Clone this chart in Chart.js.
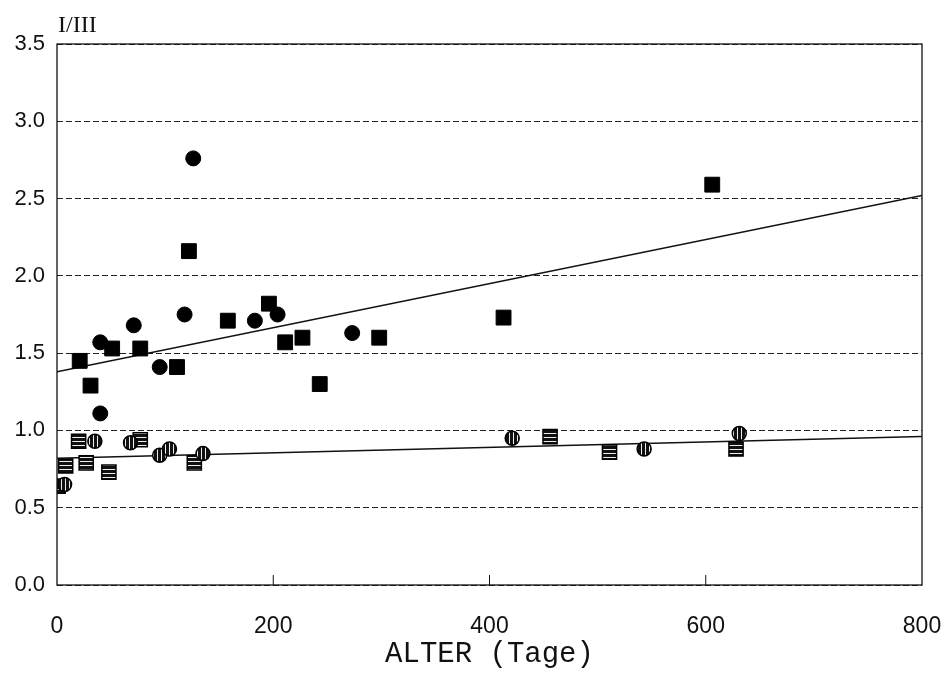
<!DOCTYPE html>
<html>
<head>
<meta charset="utf-8">
<script src="https://cdn.jsdelivr.net/npm/chart.js@4.4.1/dist/chart.umd.min.js"></script>
<style>
  body { margin: 0; background: #fff; }
</style>
</head>
<body>
<canvas id="ratioChart" width="949" height="675"></canvas>
<script>
// values (age in days, ratio I/III)
const fullCircleAge   = [126, 40, 71, 118, 183, 204, 273, 95, 40];
const fullCircleRatio = [2.76, 1.57, 1.68, 1.75, 1.71, 1.75, 1.63, 1.41, 1.11];

const fullSquareAge   = [122, 606, 21, 31, 51, 77, 111, 158, 196, 211, 227, 243, 298, 413];
const fullSquareRatio = [2.16, 2.59, 1.45, 1.29, 1.53, 1.53, 1.41, 1.71, 1.82, 1.57, 1.60, 1.30, 1.60, 1.73];

const hatchCircleAge   = [7, 35, 68, 95, 104, 135, 421, 543, 631];
const hatchCircleRatio = [0.65, 0.93, 0.92, 0.84, 0.88, 0.85, 0.95, 0.88, 0.98];

const hatchSquareAge   = [1, 8, 20, 27, 48, 77, 127, 456, 511, 628];
const hatchSquareRatio = [0.64, 0.77, 0.93, 0.79, 0.73, 0.94, 0.79, 0.96, 0.86, 0.88];

// regression lines (end points)
const lineAge      = [0, 800];
const upperLine    = [1.38, 2.52];
const lowerLine    = [0.82, 0.96];

const xTicks = [0, 200, 400, 600, 800];
const yTicks = [0, 0.5, 1.0, 1.5, 2.0, 2.5, 3.0, 3.5];

function toPoints(xs, ys) {
  return xs.map((x, i) => ({ x: x, y: ys[i] }));
}

// hatched fill for the open symbols
function makeHatch(vertical) {
  const c = document.createElement("canvas");
  c.width = 4;
  c.height = 4;
  const g = c.getContext("2d");
  g.fillStyle = "#111";
  g.fillRect(0, 0, 4, 4);
  g.fillStyle = "#eee";
  if (vertical) g.fillRect(1, 0, 1, 4);
  else g.fillRect(0, 1, 4, 1);
  return g.createPattern(c, "repeat");
}

// frame, inner tick marks and the y-axis caption
const framePlugin = {
  id: "frame",
  afterDraw(chart) {
    const { ctx, chartArea: a, scales } = chart;
    ctx.save();
    ctx.strokeStyle = "#111";
    ctx.lineWidth = 1.3;
    ctx.strokeRect(a.left, a.top, a.right - a.left, a.bottom - a.top);
    ctx.lineWidth = 1;
    [200, 400, 600].forEach(v => {
      const px = scales.x.getPixelForValue(v);
      ctx.beginPath();
      ctx.moveTo(px, a.bottom);
      ctx.lineTo(px, a.bottom - 10);
      ctx.stroke();
    });
    ctx.fillStyle = "#111";
    ctx.font = "24px 'Liberation Serif'";
    ctx.textAlign = "left";
    ctx.textBaseline = "alphabetic";
    ctx.fillText("I/III", a.left + 1, a.top - 12);
    ctx.restore();
  }
};

const ctx = document.getElementById("ratioChart").getContext("2d");

new Chart(ctx, {
  type: "scatter",
  data: {
    datasets: [
      {
        label: "full circles",
        data: toPoints(fullCircleAge, fullCircleRatio),
        pointStyle: "circle",
        pointRadius: 7.5,
        backgroundColor: "#000",
        borderColor: "#000",
        borderWidth: 1
      },
      {
        label: "full squares",
        data: toPoints(fullSquareAge, fullSquareRatio),
        pointStyle: "rect",
        pointRadius: 10.5,
        backgroundColor: "#000",
        borderColor: "#000",
        borderWidth: 1
      },
      {
        label: "hatched circles",
        data: toPoints(hatchCircleAge, hatchCircleRatio),
        pointStyle: "circle",
        pointRadius: 7,
        backgroundColor: makeHatch(true),
        borderColor: "#000",
        borderWidth: 1.5
      },
      {
        label: "hatched squares",
        data: toPoints(hatchSquareAge, hatchSquareRatio),
        pointStyle: "rect",
        pointRadius: 10,
        backgroundColor: makeHatch(false),
        borderColor: "#000",
        borderWidth: 1.5
      },
      {
        type: "line",
        label: "upper fit",
        data: toPoints(lineAge, upperLine),
        borderColor: "#111",
        borderWidth: 1.5,
        pointRadius: 0,
        fill: false
      },
      {
        type: "line",
        label: "lower fit",
        data: toPoints(lineAge, lowerLine),
        borderColor: "#111",
        borderWidth: 1.5,
        pointRadius: 0,
        fill: false
      }
    ]
  },
  options: {
    responsive: false,
    animation: false,
    layout: { padding: { left: 0, right: 27, top: 44, bottom: 0 } },
    plugins: {
      legend: { display: false },
      tooltip: { enabled: false }
    },
    scales: {
      x: {
        type: "linear",
        min: 0,
        max: 800,
        afterBuildTicks: scale => { scale.ticks = xTicks.map(v => ({ value: v })); },
        afterFit: scale => {
          scale.height = 90;
          scale.paddingLeft = 0;
          scale.paddingRight = 0;
        },
        grid: { display: false, drawTicks: false },
        border: { display: false },
        ticks: {
          padding: 28,
          color: "#111",
          font: { family: "'Liberation Sans'", size: 23 },
          maxRotation: 0
        },
        title: {
          display: true,
          text: "ALTER (Tage)",
          color: "#111",
          font: { family: "'Liberation Mono'", size: 29 },
          padding: { top: 0, bottom: 3 }
        }
      },
      y: {
        type: "linear",
        min: 0,
        max: 3.5,
        afterBuildTicks: scale => { scale.ticks = yTicks.map(v => ({ value: v })); },
        afterFit: scale => {
          scale.width = 57;
          scale.paddingTop = 0;
          scale.paddingBottom = 0;
        },
        grid: {
          color: "#222",
          lineWidth: 1,
          drawTicks: false
        },
        border: { display: false, dash: [6, 3] },
        ticks: {
          padding: 12,
          color: "#111",
          font: { family: "'Liberation Sans'", size: 22 },
          callback: v => v.toFixed(1)
        }
      }
    }
  },
  plugins: [framePlugin]
});
</script>
</body>
</html>
